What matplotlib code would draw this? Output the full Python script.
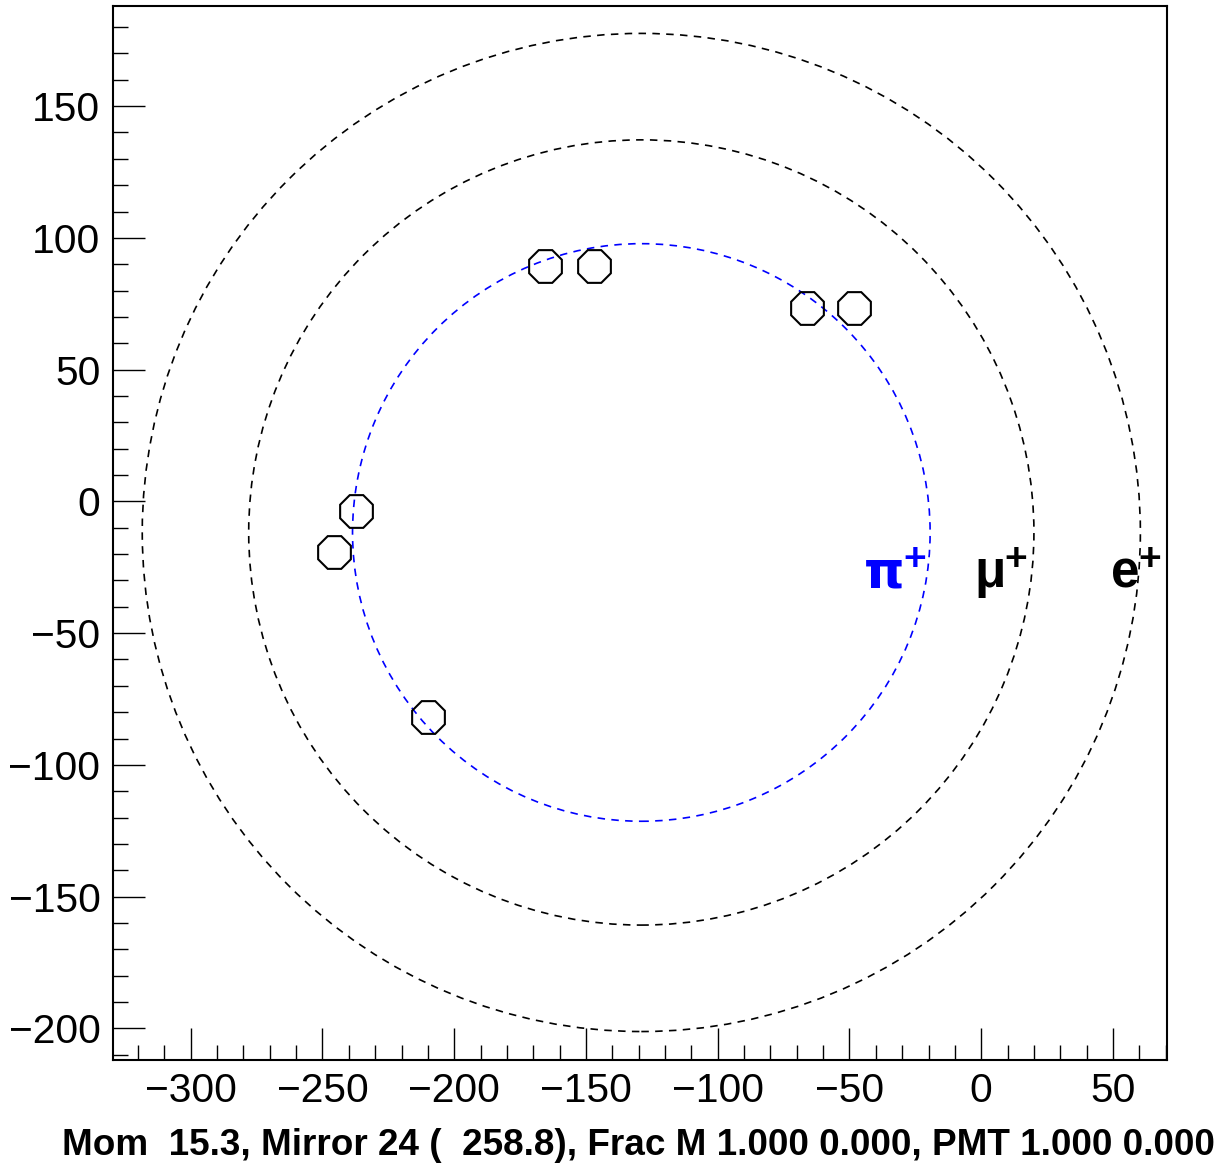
import numpy as np
import matplotlib
matplotlib.use("Agg")
import matplotlib.pyplot as plt
from matplotlib.patches import Circle
from matplotlib.ticker import MultipleLocator

plt.rcParams['font.family'] = ['Liberation Sans', 'DejaVu Sans']

# ring hypotheses (centre and radii)
ring_center = (-129.0, -11.8)
ring_names = ["π", "μ", "e"]
ring_radii = [109.6, 149.0, 189.4]
ring_colors = ["#0000ff", "black", "black"]

# hit positions
hit_x = [-165.5, -147.0, -66.3, -48.1, -237.1, -245.8, -209.8]
hit_y = [89.4, 89.4, 73.5, 73.5, -3.8, -19.3, -81.8]

# label anchors (data coords)
label_x = [-44.5, -2.5, 49.2]
plus_x = [-29.6, 8.6, 59.8]
label_y = -32.5

xlabel = "Mom  15.3, Mirror 24 (  258.8), Frac M 1.000 0.000, PMT 1.000 0.000"

fig = plt.figure(figsize=(12.22, 11.65), dpi=100)
ax = fig.add_axes([113 / 1222, 105 / 1165, 1054 / 1222, 1054 / 1165])

for r, c in zip(ring_radii, ring_colors):
    ax.add_patch(Circle(ring_center, r, fill=False, edgecolor=c, lw=1.2,
                        linestyle=(0, (4.5, 3.8))))

ax.plot(hit_x, hit_y, linestyle='none', marker=(8, 0, 22.5), markersize=25.5,
        markerfacecolor='none', markeredgecolor='black', markeredgewidth=1.5)

for name, lx, px, c in zip(ring_names, label_x, plus_x, ring_colors):
    fam = ['DejaVu Sans'] if name == "π" else ['Liberation Sans', 'DejaVu Sans']
    ax.text(lx, label_y, name, color=c, fontsize=37, fontweight='bold',
            family=fam, ha='left', va='baseline')
    ax.text(px, label_y + 6.3, "+", color=c, fontsize=28, fontweight='bold',
            ha='left', va='baseline')

ax.set_xlim(-329.5, 70.5)
ax.set_ylim(-212.0, 188.0)
ax.set_aspect('equal')

ax.xaxis.set_major_locator(MultipleLocator(50))
ax.xaxis.set_minor_locator(MultipleLocator(10))
ax.yaxis.set_major_locator(MultipleLocator(50))
ax.yaxis.set_minor_locator(MultipleLocator(10))
ax.tick_params(which='both', direction='in', top=False, right=False, width=1.0)
ax.tick_params(which='major', length=23, labelsize=29.3, pad=9)
ax.tick_params(which='minor', length=11)
for s in ax.spines.values():
    s.set_linewidth(1.5)

ax.set_xlabel(xlabel, fontsize=26.6, fontweight='bold', ha='right', va='baseline')
ax.xaxis.set_label_coords((1215 - 113) / 1054, (1060 - 1155) / 1054)

fig.savefig("out.png", dpi=100)
